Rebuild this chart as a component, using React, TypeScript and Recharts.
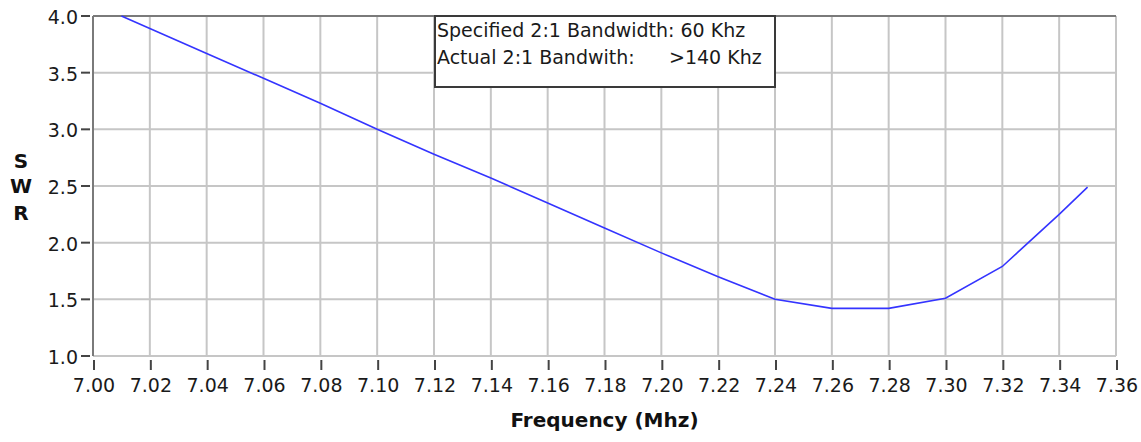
import React from "react";
import { CartesianGrid, Label, Line, LineChart, ReferenceLine, XAxis, YAxis } from "recharts";

const freq = [7.01, 7.02, 7.04, 7.06, 7.08, 7.1, 7.12, 7.14, 7.16, 7.18, 7.2, 7.22, 7.24, 7.26, 7.28, 7.3, 7.32, 7.34, 7.35];
const swr = [4.0, 3.89, 3.67, 3.45, 3.23, 3.0, 2.78, 2.57, 2.35, 2.13, 1.91, 1.7, 1.5, 1.42, 1.42, 1.51, 1.79, 2.25, 2.49];

const xTicks = [7.0, 7.02, 7.04, 7.06, 7.08, 7.1, 7.12, 7.14, 7.16, 7.18, 7.2, 7.22, 7.24, 7.26, 7.28, 7.3, 7.32, 7.34, 7.36];
const yTicks = [1.0, 1.5, 2.0, 2.5, 3.0, 3.5, 4.0];

const noteLines = ["Specified 2:1 Bandwidth: 60 Khz", "Actual 2:1 Bandwith:", ">140 Khz"];

const data = freq.map((f, i) => ({ f, swr: swr[i] }));

const FONT = "'DejaVu Sans', sans-serif";
const GRID = "#c6c6c6";
const DARK = "#7a7a7a";

function YTick(props: any) {
  const { x, y, payload } = props;
  return (
    <g>
      <line x1={x - 12} x2={x - 3} y1={y} y2={y} stroke="#444" strokeWidth={2} />
      <text x={x - 15} y={y + 8} textAnchor="end" fontFamily={FONT} fontSize={19} fill="#1a1a1a">
        {Number(payload.value).toFixed(1)}
      </text>
    </g>
  );
}

function XTick(props: any) {
  const { x, y, payload } = props;
  return (
    <g>
      <line x1={x + 1} x2={x + 1} y1={y + 4} y2={y + 14} stroke="#444" strokeWidth={2} />
      <text x={x + 1} y={y + 36} textAnchor="middle" fontFamily={FONT} fontSize={19} fill="#1a1a1a">
        {Number(payload.value).toFixed(2)}
      </text>
    </g>
  );
}

export default function App() {
  return (
    <div style={{ position: "absolute", left: 0, top: 0, width: 1141, height: 442, background: "#fff" }}>
      <LineChart width={1141} height={442} data={data} margin={{ top: 16, right: 25, bottom: 0, left: 0 }}>
        <CartesianGrid stroke={GRID} strokeWidth={2} />
        <XAxis
          type="number"
          dataKey="f"
          domain={[7.0, 7.36]}
          ticks={xTicks}
          interval={0}
          allowDataOverflow
          height={86}
          axisLine={false}
          tickLine={false}
          tickSize={0}
          tickMargin={0}
          tick={<XTick />}
        >
          <Label
            content={(p: any) => {
              const vb = p.viewBox || { x: 93, y: 356, width: 1023, height: 86 };
              return (
                <text
                  x={vb.x + vb.width / 2}
                  y={vb.y + 71}
                  textAnchor="middle"
                  fontFamily={FONT}
                  fontWeight="bold"
                  fontSize={20}
                  fill="#111"
                >
                  Frequency (Mhz)
                </text>
              );
            }}
          />
        </XAxis>
        <YAxis
          type="number"
          domain={[1, 4]}
          ticks={yTicks}
          interval={0}
          width={93}
          axisLine={{ stroke: DARK, strokeWidth: 2 }}
          tickLine={false}
          tickSize={0}
          tickMargin={0}
          tick={<YTick />}
        >
          <Label
            content={(p: any) => {
              const vb = p.viewBox || { x: 0, y: 16, width: 93, height: 340 };
              const cy = vb.y + vb.height / 2;
              return (
                <text textAnchor="middle" fontFamily={FONT} fontWeight="bold" fontSize={20} fill="#111">
                  <tspan x={21} y={cy - 18}>S</tspan>
                  <tspan x={21} y={cy + 7}>W</tspan>
                  <tspan x={21} y={cy + 34}>R</tspan>
                </text>
              );
            }}
          />
        </YAxis>
        <ReferenceLine y={4} stroke={DARK} strokeWidth={2} />
        <Line
          type="linear"
          dataKey="swr"
          stroke="#3434ff"
          strokeWidth={1.6}
          dot={false}
          isAnimationActive={false}
        />
      </LineChart>
      <div
        style={{
          position: "absolute",
          left: 434,
          top: 15,
          width: 337,
          height: 69,
          border: "2px solid #3a3a3a",
          background: "#fff",
          fontFamily: FONT,
          fontSize: 19,
          lineHeight: "27px",
          color: "#1a1a1a",
          paddingLeft: 1,
          whiteSpace: "nowrap",
        }}
      >
        <div>{noteLines[0]}</div>
        <div style={{ position: "relative" }}>
          {noteLines[1]}
          <span style={{ position: "absolute", left: 232 }}>{noteLines[2]}</span>
        </div>
      </div>
    </div>
  );
}
